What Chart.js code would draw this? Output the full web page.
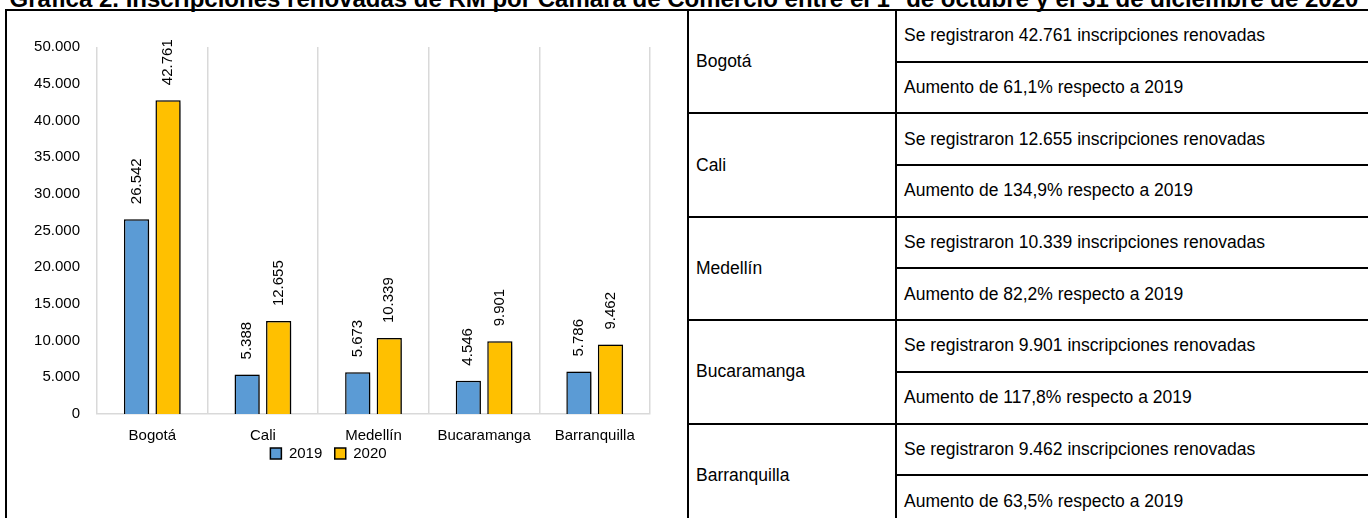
<!DOCTYPE html>
<html>
<head>
<meta charset="utf-8">
<script src="https://cdn.jsdelivr.net/npm/chart.js@4"></script>
<style>
  body { margin: 0; background: #fff; width: 1368px; height: 518px; overflow: hidden; position: relative; font-family: 'Liberation Sans', Arial, sans-serif; }
  #title { position: absolute; left: -20px; top: -13px; width: 1408px; text-align: center; white-space: nowrap; font-weight: bold; font-size: 24px; line-height: 24px; color: #000; }
  #tbl { position: absolute; left: 5px; top: 9px; width: 1411px; border-collapse: collapse; table-layout: fixed; }
  #tbl td { border: 2px solid #000; padding: 0 0 0 7px; font-size: 17.5px; color: #000; vertical-align: middle; box-sizing: border-box; overflow: hidden; white-space: nowrap; }
  #box { position: absolute; left: 7px; top: 11px; width: 679px; height: 505px; }
</style>
</head>
<body>
<div id="title">Gráfica 2. Inscripciones renovadas de RM por Cámara de Comercio entre el 1° de octubre y el 31 de diciembre de 2020</div>
<table id="tbl"></table>
<div id="box"><canvas id="chart"></canvas></div>
<script>
const cities = ['Bogotá', 'Cali', 'Medellín', 'Bucaramanga', 'Barranquilla'];
const values2019 = [26542, 5388, 5673, 4546, 5786];
const values2020 = [42761, 12655, 10339, 9901, 9462];
const increases = ['61,1', '134,9', '82,2', '117,8', '63,5']; // % respecto a 2019
const yTicks = [0, 5000, 10000, 15000, 20000, 25000, 30000, 35000, 40000, 45000, 50000];

const fmt = v => v.toLocaleString('de-DE');
const FONT = "'Liberation Sans', Arial, sans-serif";

// table on the right
const ROW_H = 51.7;
let html = '<colgroup><col style="width:682px"><col style="width:208px"><col style="width:521px"></colgroup>';
cities.forEach((c, i) => {
  html += '<tr style="height:' + ROW_H + 'px">';
  if (i === 0) html += '<td rowspan="' + (cities.length * 2) + '"></td>';
  html += '<td rowspan="2">' + c + '</td>';
  html += '<td>Se registraron ' + fmt(values2020[i]) + ' inscripciones renovadas</td></tr>';
  html += '<tr style="height:' + ROW_H + 'px"><td>Aumento de ' + increases[i] + '% respecto a 2019</td></tr>';
});
document.getElementById('tbl').innerHTML = html;

// shadow under bars + rotated value labels
const barDecor = {
  id: 'barDecor',
  beforeDatasetsDraw(chart) {
    const ctx = chart.ctx;
    ctx.save();
    ctx.shadowColor = 'rgba(0,0,0,0.45)';
    ctx.shadowOffsetX = 4;
    ctx.shadowOffsetY = 2;
    ctx.shadowBlur = 7;
  },
  afterDatasetsDraw(chart) {
    const ctx = chart.ctx;
    ctx.restore();
    ctx.save();
    ctx.font = '15px ' + FONT;
    ctx.fillStyle = '#000';
    ctx.textAlign = 'left';
    ctx.textBaseline = 'middle';
    chart.data.datasets.forEach((ds, di) => {
      chart.getDatasetMeta(di).data.forEach((bar, i) => {
        ctx.save();
        ctx.translate(bar.x, bar.y - 15);
        ctx.rotate(-Math.PI / 2);
        ctx.fillText(fmt(ds.data[i]), 0, 0);
        ctx.restore();
      });
    });
    ctx.restore();
  }
};

new Chart(document.getElementById('chart'), {
  type: 'bar',
  data: {
    labels: cities,
    datasets: [
      { label: '2019', data: values2019, backgroundColor: '#5B9BD5', borderColor: '#000', borderWidth: 1.5 },
      { label: '2020', data: values2020, backgroundColor: '#FFC000', borderColor: '#000', borderWidth: 1.5 }
    ]
  },
  options: {
    responsive: true,
    maintainAspectRatio: false,
    animation: false,
    categoryPercentage: 0.57,
    barPercentage: 0.8,
    layout: { padding: { top: 36, right: 36, bottom: 45, left: 0 } },
    scales: {
      x: {
        afterFit(scale) { scale.height = 32; },
        grid: { color: '#D9D9D9', lineWidth: 1.5, drawTicks: false },
        border: { color: '#D9D9D9', width: 1.5 },
        ticks: { color: '#000', font: { family: FONT, size: 15 }, padding: 13 }
      },
      y: {
        min: 0, max: 50000,
        afterFit(scale) { scale.width = 90; },
        afterBuildTicks(scale) { scale.ticks = yTicks.map(v => ({ value: v })); },
        grid: { display: false, drawTicks: false },
        border: { display: false },
        ticks: { color: '#000', font: { family: FONT, size: 15 }, padding: 17, callback: v => fmt(v) }
      }
    },
    plugins: {
      legend: {
        position: 'bottom',
        labels: {
          color: '#000', font: { family: FONT, size: 15 }, boxWidth: 11, boxHeight: 11, padding: 0,
          // trailing spaces give the gap between the two legend entries
          generateLabels: chart => Chart.defaults.plugins.legend.labels.generateLabels(chart)
            .map((l, i, arr) => ({ ...l, text: i < arr.length - 1 ? l.text + '   ' : l.text }))
        }
      },
      tooltip: { enabled: false }
    }
  },
  plugins: [barDecor]
});
</script>
</body>
</html>
